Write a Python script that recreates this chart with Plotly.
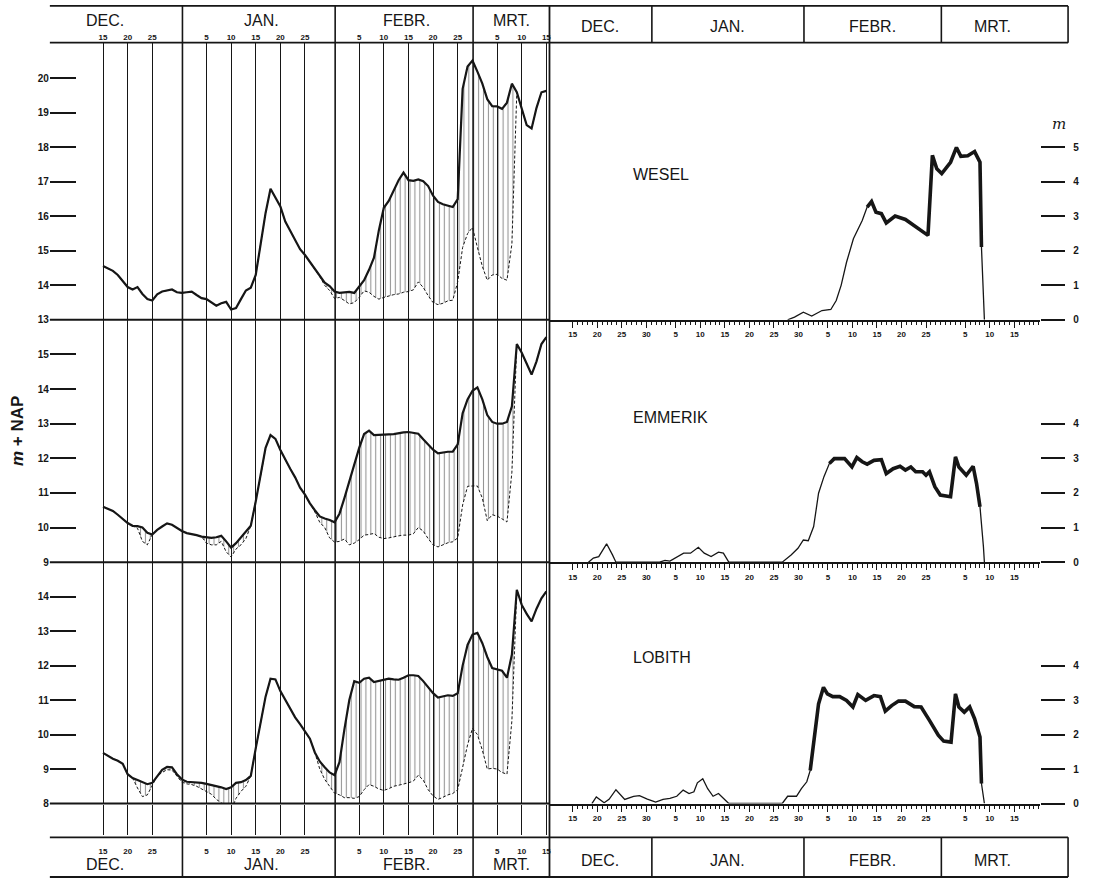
import pandas as pd
import plotly.graph_objects as go

# ------------------------------------------------------------------
# DATA  (winter 1928-29, daily values from 15 Dec 1928 to 15 Mar 1929)
# ------------------------------------------------------------------
START_DATE = "1928-12-15"
END_DATE = "1929-03-15"

# water level, m + NAP (solid line) and level without ice (dashed line)
wesel_level = [
    14.56, 14.50, 14.42, 14.30, 14.12, 13.95, 13.88, 13.95, 13.75, 13.60,
    13.56, 13.74, 13.82, 13.86, 13.88, 13.80, 13.78, 13.80, 13.82, 13.72,
    13.63, 13.60, 13.50, 13.41, 13.48, 13.52, 13.30, 13.34, 13.60, 13.85,
    13.93, 14.30, 15.20, 16.10, 16.80, 16.55, 16.29, 15.85, 15.58, 15.30,
    15.05, 14.88, 14.68, 14.45, 14.25, 14.08, 13.98, 13.82, 13.78, 13.80,
    13.81, 13.78, 13.95, 14.15, 14.45, 14.80, 15.60, 16.25, 16.45, 16.75,
    17.05, 17.27, 17.05, 17.03, 17.07, 17.02, 16.88, 16.60, 16.42, 16.35,
    16.30, 16.27, 16.50, 19.70, 20.35, 20.52, 20.20, 19.85, 19.40, 19.20,
    19.19, 19.12, 19.30, 19.85, 19.60, 19.10, 18.65, 18.55, 19.15, 19.60,
    19.64,
]
wesel_open = [
    14.56, 14.50, 14.42, 14.30, 14.12, 13.95, 13.88, 13.95, 13.75, 13.60,
    13.56, 13.74, 13.82, 13.86, 13.88, 13.80, 13.78, 13.80, 13.82, 13.72,
    13.63, 13.60, 13.50, 13.41, 13.48, 13.52, 13.30, 13.34, 13.60, 13.85,
    13.93, 14.30, 15.20, 16.10, 16.80, 16.55, 16.29, 15.85, 15.58, 15.30,
    15.05, 14.88, 14.68, 14.45, 14.25, 14.00, 13.85, 13.62, 13.65, 13.56,
    13.46, 13.50, 13.65, 13.84, 13.80, 13.68, 13.60, 13.65, 13.70, 13.73,
    13.75, 13.80, 13.82, 13.87, 14.10, 13.94, 13.70, 13.50, 13.44, 13.48,
    13.55, 13.57, 14.10, 15.10, 15.50, 15.68, 15.10, 14.55, 14.15, 14.30,
    14.32, 14.20, 14.15, 15.20, 19.60, 19.10, 18.65, 18.55, 19.15, 19.60,
    19.64,
]

emmerik_level = [
    10.60, 10.55, 10.48, 10.37, 10.24, 10.13, 10.05, 10.04, 10.00, 9.85,
    9.80, 9.93, 10.03, 10.12, 10.08, 9.98, 9.90, 9.84, 9.82, 9.78,
    9.74, 9.72, 9.70, 9.72, 9.76, 9.60, 9.42, 9.55, 9.72, 9.86,
    10.05, 10.75, 11.50, 12.30, 12.67, 12.56, 12.24, 11.95, 11.70, 11.45,
    11.15, 10.95, 10.70, 10.50, 10.32, 10.26, 10.22, 10.15, 10.40, 10.85,
    11.35, 11.85, 12.30, 12.70, 12.80, 12.67, 12.67, 12.68, 12.69, 12.70,
    12.73, 12.75, 12.76, 12.74, 12.71, 12.55, 12.40, 12.25, 12.14, 12.17,
    12.19, 12.19, 12.40, 13.30, 13.70, 13.95, 14.05, 13.70, 13.25, 13.05,
    13.00, 13.00, 13.05, 13.50, 15.30, 15.05, 14.75, 14.42, 14.80, 15.30,
    15.50,
]
emmerik_open = [
    10.60, 10.55, 10.48, 10.37, 10.24, 10.13, 10.05, 9.98, 9.60, 9.50,
    9.80, 9.93, 10.03, 10.12, 10.08, 9.98, 9.90, 9.84, 9.82, 9.78,
    9.74, 9.55, 9.50, 9.50, 9.60, 9.30, 9.15, 9.38, 9.50, 9.68,
    10.05, 10.75, 11.50, 12.30, 12.67, 12.56, 12.24, 11.95, 11.70, 11.45,
    11.15, 10.95, 10.70, 10.45, 10.15, 10.00, 9.70, 9.58, 9.60, 9.67,
    9.50, 9.55, 9.65, 9.78, 9.80, 9.83, 9.72, 9.68, 9.70, 9.74,
    9.76, 9.78, 9.78, 9.82, 10.00, 9.90, 9.68, 9.50, 9.44, 9.50,
    9.56, 9.59, 9.70, 10.65, 11.19, 11.20, 11.20, 10.85, 10.20, 10.37,
    10.33, 10.25, 10.16, 11.60, 15.30, 15.05, 14.75, 14.42, 14.80, 15.30,
    15.50,
]

lobith_level = [
    9.47, 9.38, 9.30, 9.24, 9.15, 8.85, 8.74, 8.68, 8.62, 8.56,
    8.60, 8.80, 8.98, 9.06, 9.05, 8.85, 8.70, 8.63, 8.62, 8.62,
    8.60, 8.57, 8.54, 8.51, 8.47, 8.42, 8.47, 8.60, 8.62, 8.68,
    8.80, 9.60, 10.35, 11.10, 11.62, 11.60, 11.26, 11.00, 10.72, 10.50,
    10.30, 10.10, 9.88, 9.48, 9.22, 9.05, 8.90, 8.82, 9.20, 10.15,
    11.00, 11.55, 11.50, 11.62, 11.65, 11.52, 11.55, 11.60, 11.62, 11.60,
    11.59, 11.65, 11.72, 11.72, 11.70, 11.55, 11.37, 11.20, 11.07, 11.10,
    11.14, 11.12, 11.20, 12.00, 12.60, 12.90, 12.95, 12.65, 12.25, 11.93,
    11.90, 11.85, 11.65, 12.32, 14.20, 13.76, 13.50, 13.28, 13.65, 13.95,
    14.15,
]
lobith_open = [
    9.47, 9.38, 9.30, 9.24, 9.15, 8.85, 8.74, 8.45, 8.20, 8.25,
    8.55, 8.80, 8.90, 8.98, 8.97, 8.78, 8.62, 8.57, 8.55, 8.50,
    8.42, 8.35, 8.27, 8.12, 8.02, 7.95, 7.80, 8.15, 8.35, 8.50,
    8.80, 9.60, 10.35, 11.10, 11.62, 11.60, 11.26, 11.00, 10.72, 10.50,
    10.30, 10.10, 9.88, 9.48, 9.00, 8.70, 8.50, 8.30, 8.25, 8.17,
    8.17, 8.15, 8.20, 8.40, 8.55, 8.50, 8.42, 8.38, 8.43, 8.50,
    8.53, 8.56, 8.60, 8.65, 8.82, 8.68, 8.40, 8.22, 8.12, 8.18,
    8.25, 8.29, 8.40, 9.05, 9.70, 10.18, 10.00, 9.55, 9.00, 9.02,
    9.00, 8.90, 8.85, 10.40, 14.20, 13.76, 13.50, 13.28, 13.65, 13.95,
    14.15,
]

# right-hand panels: difference in m (days counted from 15 Dec 1928)
wesel_diff_days = [43.8, 45.2, 47.0, 48.7, 50.8, 52.6, 53.7, 54.7, 55.8, 57.2,
                   59.0, 60.0, 60.9, 61.8, 62.9, 63.9, 65.7, 67.8, 69.9, 72.4,
                   73.3, 74.2, 75.2, 77.0, 78.2, 79.1, 80.5, 81.9, 83.0, 83.3,
                   83.9]
wesel_diff = [0.0, 0.08, 0.22, 0.11, 0.27, 0.30, 0.56, 1.00, 1.67, 2.35,
              2.88, 3.27, 3.43, 3.12, 3.08, 2.81, 3.01, 2.91, 2.69, 2.45,
              4.77, 4.38, 4.24, 4.57, 5.00, 4.74, 4.76, 4.88, 4.57, 2.11,
              0.0]

emmerik_diff_days = [3.2, 4.2, 5.3, 6.9, 8.1, 8.8, 17.7, 18.8, 19.8, 20.8,
                     22.6, 24.0, 25.6, 26.8, 28.2, 29.7, 30.7, 31.8, 42.7, 44.5,
                     45.9, 47.0, 48.0, 49.1, 50.1, 51.2, 52.3, 53.3, 55.4, 56.9,
                     57.9, 59.0, 60.0, 61.4, 62.9, 63.9, 65.3, 66.7, 67.8, 68.9,
                     69.9, 71.3, 72.0, 72.7, 73.8, 74.9, 77.0, 78.0, 78.7, 80.2,
                     81.6, 82.3, 83.0, 83.7, 83.9]
emmerik_diff = [0.0, 0.12, 0.16, 0.53, 0.21, 0.0, 0.0, 0.05, 0.03, 0.12,
                0.26, 0.26, 0.43, 0.26, 0.16, 0.29, 0.26, 0.0, 0.0, 0.21,
                0.40, 0.64, 0.62, 1.03, 1.99, 2.47, 2.85, 2.99, 2.99, 2.75,
                3.02, 2.90, 2.83, 2.94, 2.96, 2.56, 2.70, 2.77, 2.66, 2.75,
                2.61, 2.61, 2.51, 2.61, 2.18, 1.94, 1.89, 3.04, 2.75, 2.51,
                2.77, 2.27, 1.60, 0.45, 0.0]

lobith_diff_days = [3.9, 4.8, 6.4, 7.4, 8.8, 10.6, 12.4, 13.6, 15.2, 16.9,
                    18.4, 19.8, 21.2, 22.5, 23.7, 24.7, 25.4, 26.5, 27.5, 28.6,
                    29.7, 30.7, 31.8, 42.7, 43.8, 45.6, 46.6, 47.7, 48.4, 49.4,
                    50.1, 51.1, 51.9, 53.0, 54.4, 55.8, 57.1, 58.1, 59.7, 61.4,
                    62.7, 63.7, 65.0, 66.4, 67.8, 69.6, 71.0, 72.7, 74.5, 75.6,
                    77.1, 78.0, 78.7, 79.8, 80.9, 81.9, 83.0, 83.3, 83.9]
lobith_diff = [0.0, 0.19, 0.02, 0.12, 0.40, 0.12, 0.21, 0.23, 0.13, 0.04,
               0.12, 0.15, 0.21, 0.39, 0.29, 0.34, 0.60, 0.72, 0.43, 0.21,
               0.29, 0.14, 0.0, 0.0, 0.21, 0.21, 0.43, 0.63, 0.96, 2.02,
               2.89, 3.37, 3.18, 3.10, 3.10, 2.99, 2.80, 3.16, 2.99, 3.13,
               3.10, 2.68, 2.84, 2.97, 2.97, 2.81, 2.80, 2.41, 1.98, 1.81,
               1.78, 3.18, 2.80, 2.65, 2.80, 2.46, 1.93, 0.58, 0.0]

station_names = ["WESEL", "EMMERIK", "LOBITH"]
month_names = ["DEC.", "JAN.", "FEBR.", "MRT."]
month_ends = ["1928-12-31 03:00", "1929-01-31 03:00", "1929-02-28 03:00"]

left_tick_dates = ["1928-12-15", "1928-12-20", "1928-12-25",
                   "1929-01-05", "1929-01-10", "1929-01-15", "1929-01-20", "1929-01-25",
                   "1929-02-05", "1929-02-10", "1929-02-15", "1929-02-20", "1929-02-25",
                   "1929-03-05", "1929-03-10", "1929-03-15"]
left_tick_text = ["15", "20", "25", "5", "10", "15", "20", "25",
                  "5", "10", "15", "20", "25", "5", "10", "15"]
right_tick_dates = ["1928-12-15", "1928-12-20", "1928-12-25", "1928-12-30",
                    "1929-01-05", "1929-01-10", "1929-01-15", "1929-01-20", "1929-01-25", "1929-01-30",
                    "1929-02-05", "1929-02-10", "1929-02-15", "1929-02-20", "1929-02-25",
                    "1929-03-05", "1929-03-10", "1929-03-15"]
right_tick_text = ["15", "20", "25", "30", "5", "10", "15", "20", "25", "30",
                   "5", "10", "15", "20", "25", "5", "10", "15"]

wesel_levels_ticks = [13, 14, 15, 16, 17, 18, 19, 20]
emmerik_levels_ticks = [9, 10, 11, 12, 13, 14, 15]
lobith_levels_ticks = [8, 9, 10, 11, 12, 13, 14]
wesel_diff_ticks = [0, 1, 2, 3, 4, 5]
other_diff_ticks = [0, 1, 2, 3, 4]

# ------------------------------------------------------------------
# LAYOUT HELPERS
# ------------------------------------------------------------------
W, H = 1094, 885
INK = "#161616"
FONT = "Liberation Sans"
BASE = pd.Timestamp(START_DATE)


def fx(p):
    return p / W


def fy(p):
    return 1 - p / H


def dt(d):
    return (BASE + pd.Timedelta(days=float(d))).strftime("%Y-%m-%d %H:%M")


days = pd.date_range(START_DATE, END_DATE, freq="D")
for arr in (wesel_level, wesel_open, emmerik_level, emmerik_open, lobith_level, lobith_open):
    assert len(arr) == len(days)
for a, b in ((wesel_diff_days, wesel_diff), (emmerik_diff_days, emmerik_diff),
             (lobith_diff_days, lobith_diff)):
    assert len(a) == len(b)

fig = go.Figure()

# left panels: water levels with hatched difference
left_sets = [("x", "y", wesel_level, wesel_open),
             ("x2", "y2", emmerik_level, emmerik_open),
             ("x3", "y3", lobith_level, lobith_open)]
for xa, ya, lev, opn in left_sets:
    fig.add_trace(go.Scatter(x=days, y=opn, xaxis=xa, yaxis=ya, mode="lines",
                             line=dict(color=INK, width=1, dash="3px,2px")))
    fig.add_trace(go.Scatter(x=days, y=lev, xaxis=xa, yaxis=ya, mode="lines",
                             line=dict(color=INK, width=2.2),
                             fill="tonexty", fillcolor="rgba(0,0,0,0)",
                             fillpattern=dict(shape="|", size=4.9, solidity=0.22,
                                              fgcolor="#2a2a2a", bgcolor="rgba(0,0,0,0)")))

# right panels: difference curves (thin, then heavy)
right_sets = [("x4", "y4", wesel_diff_days, wesel_diff, 60.0, 83.3),
              ("x5", "y5", emmerik_diff_days, emmerik_diff, 52.3, 83.0),
              ("x6", "y6", lobith_diff_days, lobith_diff, 48.4, 83.3)]
for xa, ya, dd, vv, t0, t1 in right_sets:
    fig.add_trace(go.Scatter(x=[dt(d) for d in dd], y=vv, xaxis=xa, yaxis=ya,
                             mode="lines", line=dict(color=INK, width=1.3)))
    hd = [d for d in dd if t0 <= d <= t1]
    hv = [v for d, v in zip(dd, vv) if t0 <= d <= t1]
    fig.add_trace(go.Scatter(x=[dt(d) for d in hd], y=hv, xaxis=xa, yaxis=ya,
                             mode="lines", line=dict(color=INK, width=3.6)))

# panel geometry (pixels)
rows = [(43, 322), (322, 566), (566, 809)]
left_dom = [fx(50), fx(550)]
left_rng = [dt(-10.79), dt(90.43)]
right_dom = [fx(551), fx(1043)]
right_rng = [dt(-4.74), dt(95.26)]
left_ranges = [[13, 21.038], [9, 16.0], [8, 15.0]]
right_ranges = [[0, 8.038], [0, 7.0], [0, 7.0]]
left_ticks = [wesel_levels_ticks, emmerik_levels_ticks, lobith_levels_ticks]
right_ticks = [wesel_diff_ticks, other_diff_ticks, other_diff_ticks]

tick_font_small = dict(family=FONT, size=8, color=INK, weight="bold")
tick_font_y = dict(family=FONT, size=10, color=INK, weight="bold")

layout = dict(width=W, height=H, margin=dict(l=0, r=0, t=0, b=0),
              paper_bgcolor="white", plot_bgcolor="rgba(0,0,0,0)",
              showlegend=False, hovermode=False)

for i in range(3):
    n = "" if i == 0 else str(i + 1)
    top, bot = rows[i]
    xa = dict(domain=left_dom, range=left_rng, type="date", anchor="y" + n,
              tickmode="array", tickvals=left_tick_dates, ticktext=left_tick_text,
              showgrid=True, gridcolor=INK, gridwidth=1.3, zeroline=False,
              showline=False, tickfont=tick_font_small)
    if i == 0:
        xa.update(side="top", ticks="", showticklabels=True, ticklabelstandoff=0)
    elif i == 1:
        xa.update(ticks="", showticklabels=False)
    else:
        xa.update(side="bottom", ticks="outside", ticklen=30, tickwidth=1.3,
                  tickcolor=INK, showticklabels=True, ticklabelstandoff=10)
    layout["xaxis" + n] = xa
    layout["yaxis" + n] = dict(domain=[fy(bot), fy(top)], range=left_ranges[i],
                               anchor="x" + n, tickmode="array", tickvals=left_ticks[i],
                               ticks="inside", ticklen=26, tickwidth=2, tickcolor=INK,
                               showgrid=False, zeroline=False, showline=False,
                               tickfont=tick_font_y)
    m = str(i + 4)
    layout["xaxis" + m] = dict(domain=right_dom, range=right_rng, type="date",
                               anchor="y" + m, tickmode="array", tickvals=right_tick_dates,
                               ticktext=right_tick_text, ticks="outside", ticklen=6,
                               tickwidth=1.2, tickcolor=INK, showline=True, linewidth=2,
                               linecolor=INK, showgrid=False, zeroline=False,
                               tickfont=tick_font_small,
                               minor=dict(tickmode="array",
                                          tickvals=list(pd.date_range(START_DATE, "1929-03-20", freq="D")),
                                          ticks="outside", ticklen=3.5, tickwidth=1,
                                          tickcolor=INK, showgrid=False))
    layout["yaxis" + m] = dict(domain=[fy(bot), fy(top)], range=right_ranges[i],
                               anchor="x" + m, side="right", tickmode="array",
                               tickvals=right_ticks[i], ticks="outside", ticklen=24,
                               tickwidth=2, tickcolor=INK, showgrid=False, zeroline=False,
                               showline=False, tickfont=tick_font_y, ticklabelstandoff=6)

shapes = []


def pline(x0, y0, x1, y1, w=1.6):
    shapes.append(dict(type="line", xref="paper", yref="paper", x0=fx(x0), y0=fy(y0),
                       x1=fx(x1), y1=fy(y1), line=dict(color=INK, width=w)))


# header frames
for yy in (6, 43, 843, 883):
    pline(50, yy, 1071, yy, 1.8)
pline(551, 6, 551, 883, 1.8)
pline(1071, 6, 1071, 43, 1.6)
pline(1071, 843, 1071, 883, 1.6)
# panel base lines on the left
for yy in (322, 566, 809):
    pline(50, yy, 551, yy, 2.0)
# month dividers
for me in month_ends:
    shapes.append(dict(type="line", xref="x", yref="paper", x0=me, x1=me,
                       y0=fy(6), y1=fy(883), line=dict(color=INK, width=1.6)))
    for y0, y1 in ((6, 43), (843, 883)):
        shapes.append(dict(type="line", xref="x4", yref="paper", x0=me, x1=me,
                           y0=fy(y0), y1=fy(y1), line=dict(color=INK, width=1.6)))
layout["shapes"] = shapes

ann = []
month_font = dict(family=FONT, size=16, color=INK)


def label(text, xp, yp, font, xanchor="center", **kw):
    ann.append(dict(text=text, x=fx(xp), y=fy(yp), xref="paper", yref="paper",
                    xanchor=xanchor, yanchor="middle", showarrow=False, font=font, **kw))


for name, xl, xr in zip(month_names, (105, 262, 408, 513), (602, 730, 875, 995)):
    label(name, xl, 21, month_font)
    label(name, xl, 870, month_font)
    label(name, xr, 27, month_font)
    label(name, xr, 866, month_font)
for name, yy in zip(station_names, (176, 420, 662)):
    label(name, 633, yy, month_font, xanchor="left")
label("<i>m</i>", 1062, 125, dict(family="DejaVu Serif", size=15, color=INK))
label("<i>m</i> + NAP", 17, 434, dict(family=FONT, size=17, color=INK, weight="bold"),
      textangle=-90)
layout["annotations"] = ann

fig.update_layout(**layout)
fig.write_html("out.html")
